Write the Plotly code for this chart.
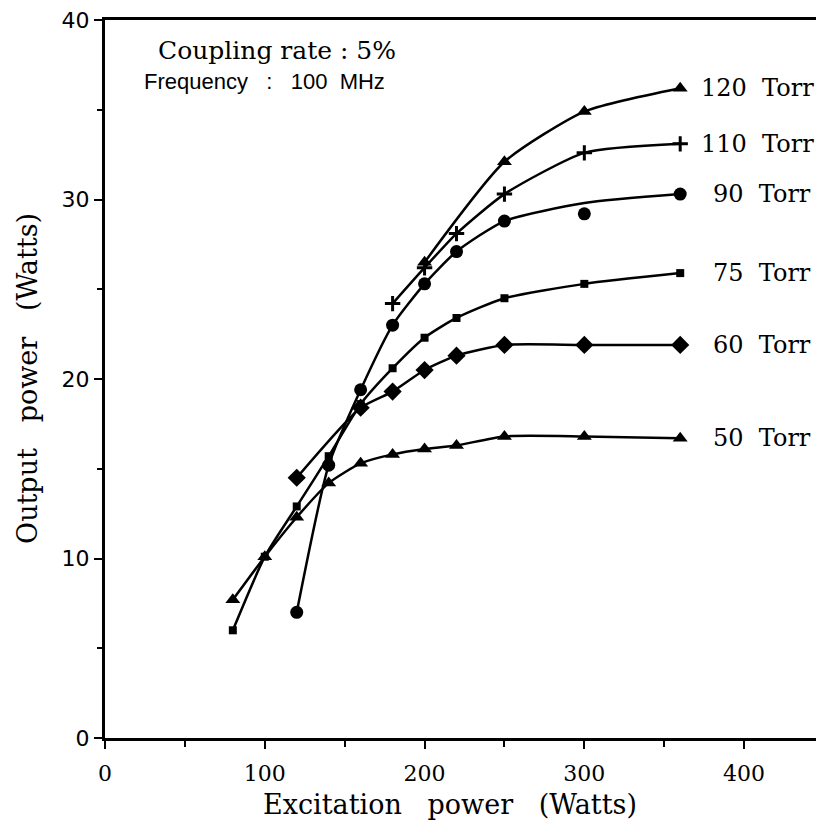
import plotly.graph_objects as go

# Excitation power (W) and output power (W) per pressure
x_50 = [80, 100, 120, 140, 160, 180, 200, 220, 250, 300, 360]
y_50 = [7.7, 10.1, 12.3, 14.2, 15.3, 15.8, 16.1, 16.3, 16.8, 16.8, 16.7]

x_60 = [120, 160, 180, 200, 220, 250, 300, 360]
y_60 = [14.5, 18.4, 19.3, 20.5, 21.3, 21.9, 21.9, 21.9]

x_75 = [80, 100, 120, 140, 160, 180, 200, 220, 250, 300, 360]
y_75 = [6.0, 10.1, 12.9, 15.7, 18.6, 20.6, 22.3, 23.4, 24.5, 25.3, 25.9]

x_90 = [120, 140, 160, 180, 200, 220, 250, 300, 360]
y_90 = [7.0, 15.2, 19.4, 23.0, 25.3, 27.1, 28.8, 29.2, 30.3]
y_90_curve = [7.0, 15.2, 19.4, 23.0, 25.3, 27.1, 28.8, 29.8, 30.3]

x_110 = [180, 200, 220, 250, 300, 360]
y_110 = [24.2, 26.2, 28.1, 30.3, 32.6, 33.1]

x_120 = [200, 250, 300, 360]
y_120 = [26.5, 32.1, 34.9, 36.2]

labels = ["120  Torr", "110  Torr", "90  Torr", "75  Torr", "60  Torr", "50  Torr"]

x_ticks = [0, 100, 200, 300, 400]
y_ticks = [0, 10, 20, 30, 40]

SERIF = "DejaVu Serif"
fig = go.Figure()

series = [
    (x_50, y_50, y_50, "triangle-up", 13),
    (x_60, y_60, y_60, "diamond", 14),
    (x_75, y_75, y_75, "square", 8),
    (x_90, y_90, y_90_curve, "circle", 13),
    (x_110, y_110, y_110, "cross-thin", 11),
    (x_120, y_120, y_120, "triangle-up", 13),
]
for xs, ys, yc, sym, sz in series:
    fig.add_trace(go.Scatter(x=xs, y=yc, mode="lines",
                             line=dict(color="black", width=2.5, shape="spline", smoothing=0.6),
                             showlegend=False, hoverinfo="skip"))
    mk = dict(symbol=sym, size=sz, color="black")
    if sym == "cross-thin":
        mk["line"] = dict(color="black", width=3)
    fig.add_trace(go.Scatter(x=xs, y=ys, mode="markers", marker=mk, showlegend=False))

ends = [(x_120, y_120), (x_110, y_110), (x_90, y_90), (x_75, y_75), (x_60, y_60), (x_50, y_50)]
for lab, (xs, ys) in zip(labels, ends):
    shift = 19 if lab.startswith("1") else 31
    fig.add_annotation(x=xs[-1], y=ys[-1], text=lab.replace(" ", "\u00a0"), showarrow=False,
                       xanchor="left", yanchor="middle", xshift=shift,
                       font=dict(family=SERIF, size=24, color="black"))

fig.add_annotation(xref="paper", yref="paper", x=0.071, y=0.958, text="Coupling rate : 5%",
                   showarrow=False, xanchor="left", yanchor="middle",
                   font=dict(family=SERIF, size=25, color="black"))
fig.add_annotation(xref="paper", yref="paper", x=0.052, y=0.914,
                   text="Frequency\u00a0\u00a0\u00a0:\u00a0\u00a0\u00a0100\u00a0\u00a0MHz",
                   showarrow=False, xanchor="left", yanchor="middle",
                   font=dict(family="Liberation Sans", size=22, color="black"))

fig.add_annotation(xref="paper", yref="paper", x=0.48, y=0, yshift=-66,
                   text="Excitation\u00a0\u00a0\u00a0power\u00a0\u00a0\u00a0(Watts)",
                   showarrow=False, xanchor="center", yanchor="middle",
                   font=dict(family=SERIF, size=27, color="black"))
fig.add_annotation(xref="paper", yref="paper", x=0, xshift=-78, y=0.5,
                   text="Output\u00a0\u00a0\u00a0power\u00a0\u00a0\u00a0(Watts)", textangle=-90,
                   showarrow=False, xanchor="center", yanchor="middle",
                   font=dict(family=SERIF, size=27, color="black"))

# page body adds an 8px offset; figure is sized/margined to compensate
fig.update_layout(
    width=816, height=831,
    margin=dict(l=97, r=0, t=10, b=101),
    paper_bgcolor="white", plot_bgcolor="white",
    showlegend=False,
)
fig.update_xaxes(range=[0, 450], tickvals=x_ticks, ticktext=[str(v) for v in x_ticks],
                 showgrid=False, zeroline=False, showline=True, linecolor="black", linewidth=3,
                 mirror=True, ticks="outside", ticklen=8, tickwidth=2, tickcolor="black",
                 ticklabelstandoff=6, ticklabeloverflow="allow",
                 minor=dict(dtick=50, tick0=0, ticks="outside", ticklen=6, tickwidth=2, tickcolor="black"),
                 tickfont=dict(family=SERIF, size=22, color="black"))
fig.update_yaxes(range=[0, 40], tickvals=y_ticks, ticktext=[str(v) for v in y_ticks],
                 showgrid=False, zeroline=False, showline=True, linecolor="black", linewidth=3,
                 mirror=False, ticks="outside", ticklen=8, tickwidth=2, tickcolor="black",
                 ticklabeloverflow="allow",
                 minor=dict(dtick=5, tick0=0, ticks="outside", ticklen=5, tickwidth=2, tickcolor="black"),
                 tickfont=dict(family="DejaVu Sans", size=22, color="black"))

fig.write_html("out.html")
